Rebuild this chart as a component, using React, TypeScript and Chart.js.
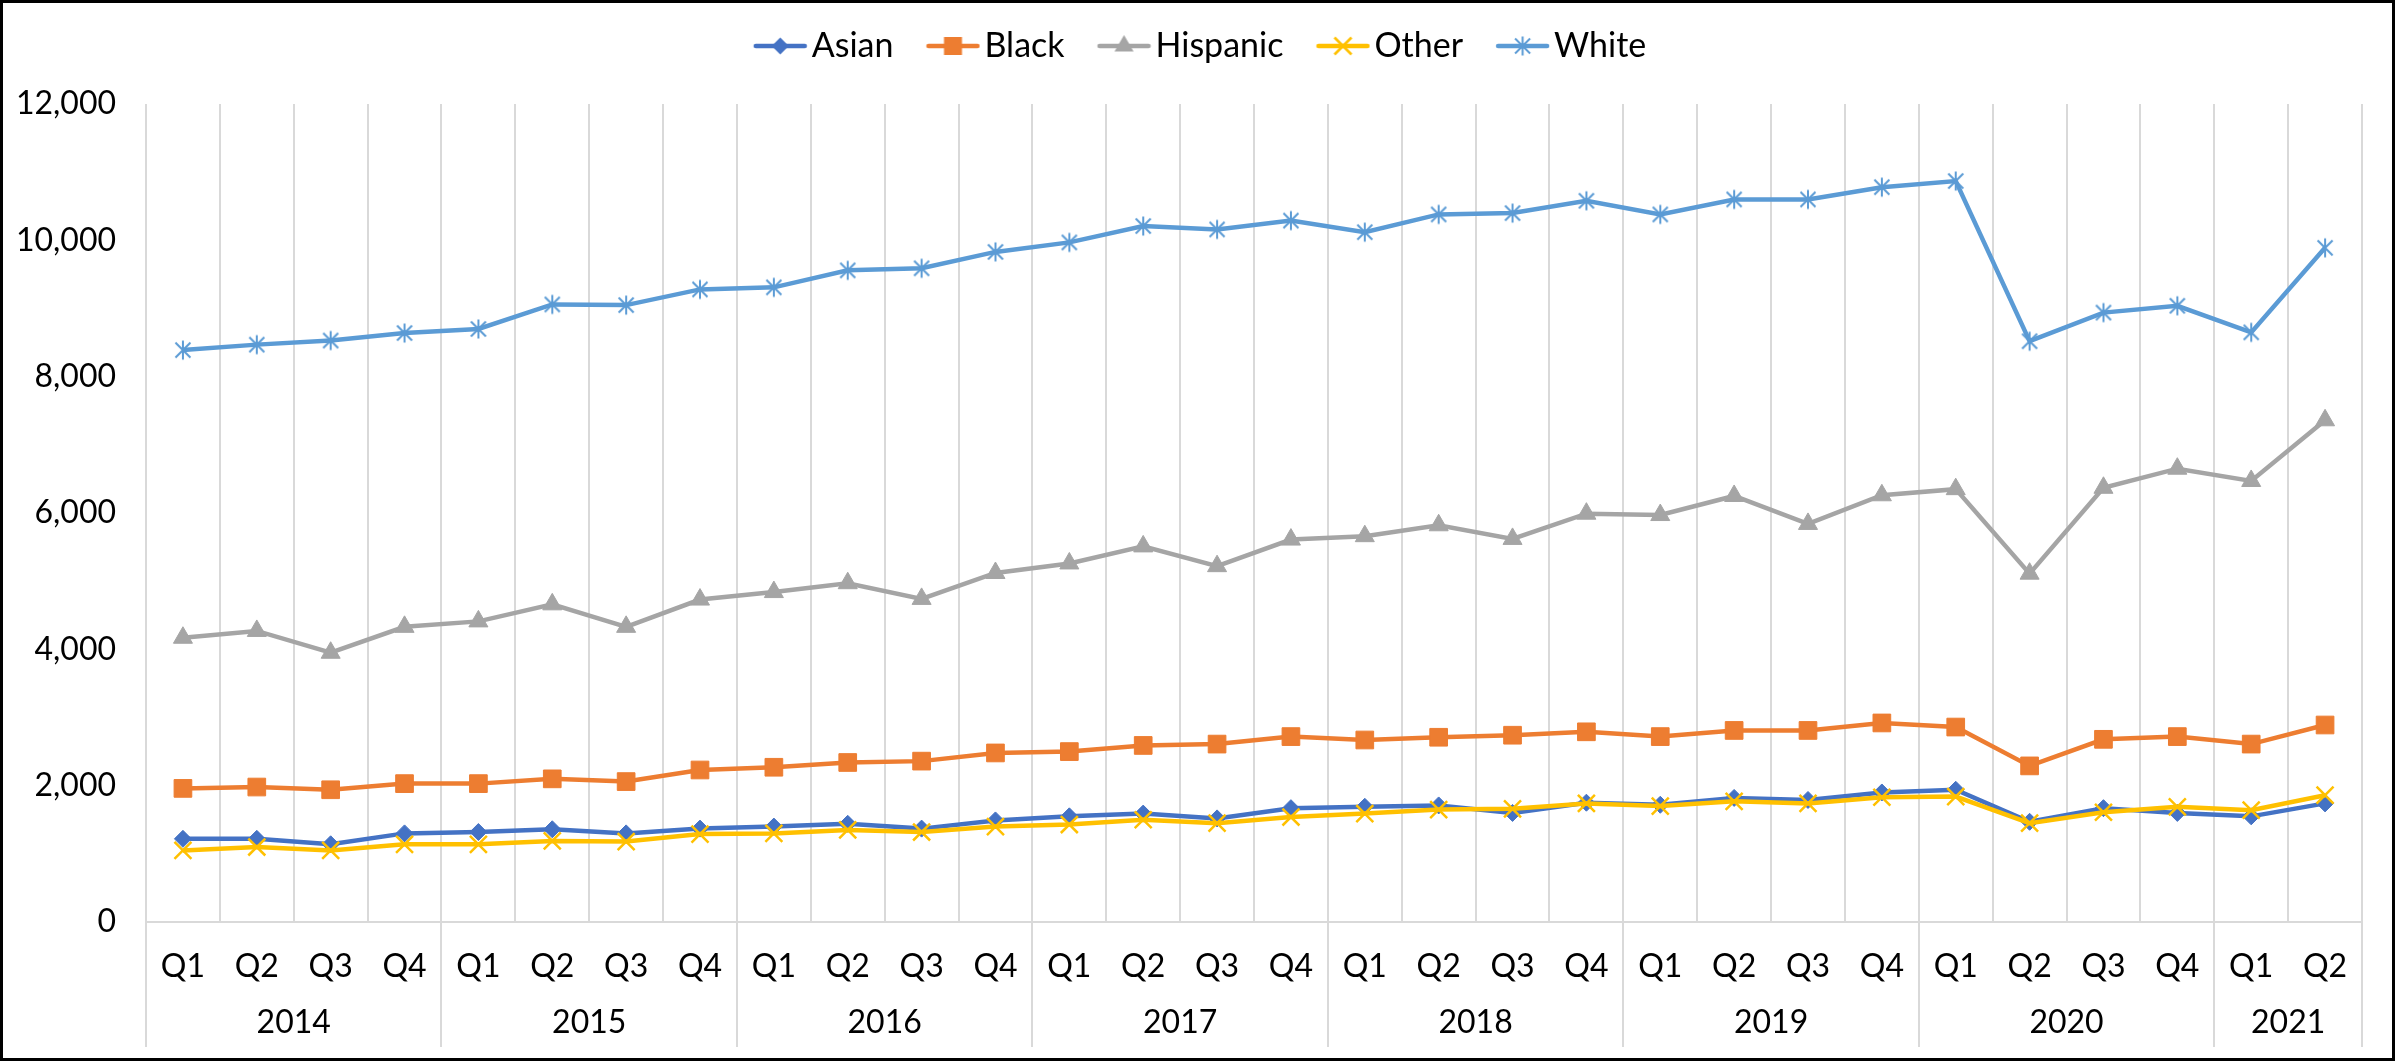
import React, { useEffect, useRef } from 'react';
import { Chart, registerables } from 'chart.js';

Chart.register(...registerables);

// ---------- data ----------
const quarters = [
  'Q1', 'Q2', 'Q3', 'Q4', 'Q1', 'Q2', 'Q3', 'Q4', 'Q1', 'Q2', 'Q3', 'Q4',
  'Q1', 'Q2', 'Q3', 'Q4', 'Q1', 'Q2', 'Q3', 'Q4', 'Q1', 'Q2', 'Q3', 'Q4',
  'Q1', 'Q2', 'Q3', 'Q4', 'Q1', 'Q2',
];
const years = ['2014', '2015', '2016', '2017', '2018', '2019', '2020', '2021'];
const quartersPerYear = [4, 4, 4, 4, 4, 4, 4, 2];

const asian = [
  1220, 1220, 1140, 1300, 1320, 1360, 1300, 1370, 1400, 1440, 1370, 1490,
  1550, 1590, 1520, 1670, 1690, 1710, 1600, 1750, 1720, 1820, 1790, 1900,
  1940, 1470, 1670, 1600, 1550, 1740,
];
const black = [
  1960, 1980, 1940, 2030, 2030, 2100, 2060, 2230, 2270, 2340, 2360, 2480,
  2500, 2590, 2610, 2720, 2670, 2710, 2740, 2790, 2720, 2810, 2810, 2920,
  2860, 2290, 2680, 2720, 2610, 2890,
];
const hispanic = [
  4170, 4270, 3950, 4330, 4410, 4660, 4330, 4730, 4840, 4970, 4740, 5120,
  5260, 5510, 5220, 5610, 5660, 5820, 5620, 5990, 5970, 6250, 5840, 6260,
  6350, 5110, 6370, 6650, 6470, 7360,
];
const other = [
  1050, 1100, 1050, 1140, 1140, 1190, 1180, 1290, 1300, 1350, 1320, 1400,
  1430, 1500, 1450, 1540, 1590, 1650, 1660, 1740, 1700, 1770, 1740, 1830,
  1840, 1450, 1610, 1690, 1640, 1860,
];
const white = [
  8390, 8470, 8530, 8640, 8700, 9060, 9050, 9280, 9310, 9560, 9590, 9830,
  9970, 10210, 10160, 10290, 10120, 10380, 10400, 10580, 10380, 10600, 10600, 10780,
  10870, 8520, 8940, 9040, 8650, 9890,
];

const seriesNames = ['Asian', 'Black', 'Hispanic', 'Other', 'White'];
const yMin = 0;
const yMax = 12000;
const yStep = 2000;

// ---------- styles ----------
const COLORS = ['#4472C4', '#ED7D31', '#A5A5A5', '#FFC000', '#5B9BD5'];
const GRID = '#D9D9D9';
const FONT = 'Lato, "Open Sans", "DejaVu Sans", sans-serif';
const FONT_SIZE = 32;
const LEGEND_FONT_SIZE = 34;

type MarkerKind = 'diamond' | 'square' | 'triangle' | 'x' | 'star';
const MARKERS: MarkerKind[] = ['diamond', 'square', 'triangle', 'x', 'star'];

function drawMarker(ctx: CanvasRenderingContext2D, kind: MarkerKind, cx: number, cy: number, color: string) {
  ctx.fillStyle = color;
  ctx.strokeStyle = color;
  ctx.beginPath();
  if (kind === 'diamond') {
    const r = 8.5;
    ctx.moveTo(cx, cy - r);
    ctx.lineTo(cx + r, cy);
    ctx.lineTo(cx, cy + r);
    ctx.lineTo(cx - r, cy);
    ctx.closePath();
    ctx.fill();
  } else if (kind === 'square') {
    const h = 9;
    ctx.rect(cx - h, cy - h, 2 * h, 2 * h);
    ctx.fill();
  } else if (kind === 'triangle') {
    const r = 11;
    ctx.moveTo(cx, cy - r);
    ctx.lineTo(cx + r * 0.866, cy + r * 0.5);
    ctx.lineTo(cx - r * 0.866, cy + r * 0.5);
    ctx.closePath();
    ctx.fill();
  } else if (kind === 'x') {
    const h = 8.5;
    ctx.lineWidth = 2.5;
    ctx.moveTo(cx - h, cy - h);
    ctx.lineTo(cx + h, cy + h);
    ctx.moveTo(cx + h, cy - h);
    ctx.lineTo(cx - h, cy + h);
    ctx.stroke();
  } else {
    const h = 9.5;
    const d = 7.5;
    ctx.lineWidth = 2;
    ctx.moveTo(cx, cy - h);
    ctx.lineTo(cx, cy + h);
    ctx.moveTo(cx - d, cy - d);
    ctx.lineTo(cx + d, cy + d);
    ctx.moveTo(cx + d, cy - d);
    ctx.lineTo(cx - d, cy + d);
    ctx.stroke();
  }
}

function makeStarImage(color: string): HTMLCanvasElement {
  const c = document.createElement('canvas');
  c.width = 22;
  c.height = 22;
  const ctx = c.getContext('2d')!;
  drawMarker(ctx, 'star', 11, 11, color);
  return c;
}

// legend icon: line with the marker in its middle (image centred on the legend box)
function makeLegendIcon(kind: MarkerKind, color: string): HTMLCanvasElement {
  const c = document.createElement('canvas');
  c.width = 90;
  c.height = 26;
  const ctx = c.getContext('2d')!;
  const a = 36;
  const b = 89;
  ctx.strokeStyle = color;
  ctx.lineWidth = 4.5;
  ctx.lineCap = 'round';
  ctx.beginPath();
  ctx.moveTo(a + 2, 13);
  ctx.lineTo(b - 2, 13);
  ctx.stroke();
  ctx.lineCap = 'butt';
  drawMarker(ctx, kind, (a + b) / 2, 13, color);
  return c;
}

const yearAxisPlugin = {
  id: 'yearAxis',
  afterDraw(chart: any) {
    const xs = chart.scales.x;
    const area = chart.chartArea;
    const ctx: CanvasRenderingContext2D = chart.ctx;
    const step = xs.getPixelForValue(1) - xs.getPixelForValue(0);
    const bounds: number[] = [];
    ctx.save();
    ctx.fillStyle = '#000';
    ctx.font = `${FONT_SIZE}px ${FONT}`;
    ctx.textAlign = 'center';
    ctx.textBaseline = 'middle';
    let start = 0;
    years.forEach((yr, k) => {
      const n = quartersPerYear[k];
      const left = xs.getPixelForValue(start) - step / 2;
      const right = xs.getPixelForValue(start + n - 1) + step / 2;
      ctx.fillText(yr, (left + right) / 2, area.bottom + 101);
      bounds.push(left);
      if (k === years.length - 1) bounds.push(right);
      start += n;
    });
    ctx.strokeStyle = GRID;
    ctx.lineWidth = 2;
    ctx.beginPath();
    bounds.forEach((bx) => {
      const px = Math.round(bx);
      ctx.moveTo(px, area.bottom);
      ctx.lineTo(px, area.bottom + 125);
    });
    ctx.stroke();
    ctx.restore();
  },
};

const legendHeightPlugin = {
  id: 'legendHeight',
  beforeInit(chart: any) {
    const orig = chart.legend.fit;
    chart.legend.fit = function fit() {
      orig.bind(chart.legend)();
      this.height = 85;
    };
  },
};

export default function App() {
  const canvasRef = useRef<HTMLCanvasElement | null>(null);

  useEffect(() => {
    const canvas = canvasRef.current;
    if (!canvas) return;
    const seriesData = [asian, black, hispanic, other, white];
    const legendIcons = MARKERS.map((m, i) => makeLegendIcon(m, COLORS[i]));
    const starImg = makeStarImage(COLORS[4]);

    const pointStyles: any[] = ['rectRot', 'rect', 'triangle', 'crossRot', starImg];
    const pointRadii = [8.5, 12.5, 11, 12, 10];
    const pointBorderWidths = [1, 1, 1, 2.5, 2];
    const orders = [5, 4, 3, 2, 1];

    const datasets = seriesNames.map((name, i) => ({
      label: name,
      data: seriesData[i],
      borderColor: COLORS[i],
      backgroundColor: COLORS[i],
      borderWidth: 4.5,
      pointStyle: pointStyles[i],
      pointRadius: pointRadii[i],
      pointHoverRadius: pointRadii[i],
      pointBorderWidth: pointBorderWidths[i],
      pointBackgroundColor: COLORS[i],
      pointBorderColor: COLORS[i],
      tension: 0,
      order: orders[i],
    }));

    const chart = new Chart(canvas, {
      type: 'line',
      data: { labels: quarters, datasets },
      options: {
        animation: false,
        responsive: false,
        devicePixelRatio: 1,
        layout: { padding: { top: 16, left: 12, right: 30, bottom: 0 } },
        font: { family: FONT, size: FONT_SIZE },
        plugins: {
          tooltip: { enabled: false },
          legend: {
            display: true,
            position: 'top',
            align: 'center',
            labels: {
              usePointStyle: true,
              pointStyleWidth: 64,
              padding: 10,
              color: '#000',
              font: { family: FONT, size: LEGEND_FONT_SIZE },
              generateLabels: (ch: any) => {
                const items = (Chart.defaults.plugins.legend.labels as any).generateLabels(ch);
                items.sort((a: any, b: any) => a.datasetIndex - b.datasetIndex);
                items.forEach((it: any) => {
                  it.pointStyle = legendIcons[it.datasetIndex];
                  it.fontColor = '#000';
                });
                return items;
              },
            },
          },
        },
        scales: {
          x: {
            type: 'category',
            offset: true,
            grid: {
              display: true,
              offset: true,
              color: GRID,
              lineWidth: 2,
              drawTicks: false,
            },
            border: { display: true, color: GRID, width: 2 },
            ticks: {
              autoSkip: false,
              maxRotation: 0,
              minRotation: 0,
              padding: 25,
              color: '#000',
              font: { family: FONT, size: FONT_SIZE },
            },
            afterFit: (scale: any) => {
              scale.height = 136;
            },
          },
          y: {
            type: 'linear',
            min: yMin,
            max: yMax,
            grid: { display: false, drawTicks: false },
            border: { display: false },
            ticks: {
              stepSize: yStep,
              padding: 30,
              color: '#000',
              font: { family: FONT, size: FONT_SIZE },
              callback: (v: any) => Number(v).toLocaleString('en-US'),
            },
            afterFit: (scale: any) => {
              scale.width = 131;
            },
          },
        },
      },
      plugins: [legendHeightPlugin, yearAxisPlugin],
    } as any);

    return () => {
      chart.destroy();
    };
  }, []);

  return (
    <div
      style={{
        position: 'fixed',
        left: 0,
        top: 0,
        width: 2395,
        height: 1061,
        boxSizing: 'border-box',
        border: '3px solid #000',
        background: '#fff',
        overflow: 'hidden',
      }}
    >
      <canvas ref={canvasRef} width={2389} height={1055} style={{ display: 'block', width: 2389, height: 1055 }} />
    </div>
  );
}
